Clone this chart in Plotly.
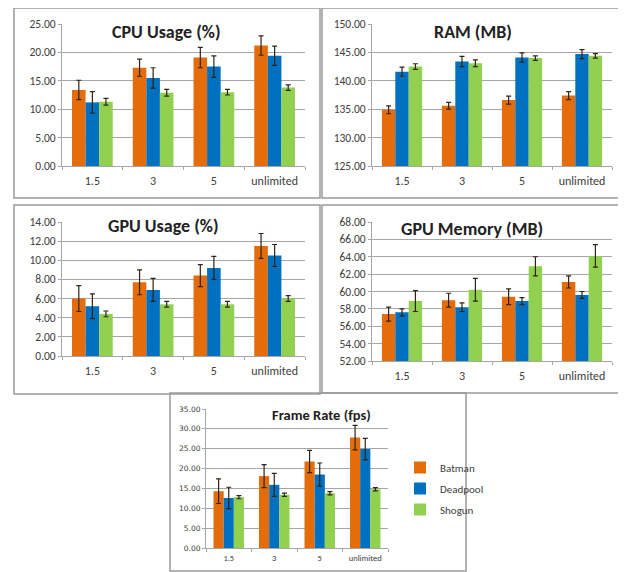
import plotly.graph_objects as go

# The page body has an 8px default margin, so the figure is drawn 8px smaller
# and every reference pixel position is shifted by OFF.
OFF = 8
W, H = 626 - OFF, 572 - OFF

categories = ["1.5", "3", "5", "unlimited"]
series_names = ["Batman", "Deadpool", "Shogun"]
series_colors = ["#E46C0A", "#0070C0", "#92D050"]

# CPU Usage (%)
cpu_batman = [13.4, 17.3, 19.1, 21.2]
cpu_deadpool = [11.2, 15.5, 17.5, 19.4]
cpu_shogun = [11.3, 12.9, 13.0, 13.8]
cpu_batman_err = [1.7, 1.5, 1.8, 1.7]
cpu_deadpool_err = [1.9, 1.8, 1.9, 1.7]
cpu_shogun_err = [0.6, 0.6, 0.5, 0.5]

# RAM (MB)
ram_batman = [134.9, 135.6, 136.6, 137.4]
ram_deadpool = [141.6, 143.4, 144.1, 144.7]
ram_shogun = [142.5, 143.1, 144.0, 144.4]
ram_batman_err = [0.7, 0.6, 0.7, 0.7]
ram_deadpool_err = [0.8, 0.9, 0.8, 0.8]
ram_shogun_err = [0.5, 0.6, 0.4, 0.4]

# GPU Usage (%)
gpu_batman = [6.0, 7.7, 8.4, 11.5]
gpu_deadpool = [5.2, 6.9, 9.2, 10.5]
gpu_shogun = [4.4, 5.4, 5.4, 6.0]
gpu_batman_err = [1.35, 1.3, 1.15, 1.3]
gpu_deadpool_err = [1.3, 1.2, 1.2, 1.15]
gpu_shogun_err = [0.3, 0.3, 0.3, 0.3]

# GPU Memory (MB)
gmem_batman = [57.4, 59.0, 59.4, 61.1]
gmem_deadpool = [57.6, 58.2, 58.9, 59.6]
gmem_shogun = [58.9, 60.2, 62.9, 64.1]
gmem_batman_err = [0.8, 0.8, 0.9, 0.7]
gmem_deadpool_err = [0.4, 0.5, 0.4, 0.4]
gmem_shogun_err = [1.2, 1.3, 1.1, 1.3]

# Frame Rate (fps)
fps_batman = [14.3, 18.1, 21.8, 27.8]
fps_deadpool = [12.6, 15.9, 18.5, 24.9]
fps_shogun = [12.8, 13.4, 13.8, 14.8]
fps_batman_err = [3.1, 2.9, 2.8, 3.1]
fps_deadpool_err = [2.7, 2.9, 2.9, 2.7]
fps_shogun_err = [0.4, 0.4, 0.4, 0.4]

FONT = "Carlito, Lato, 'Open Sans', sans-serif"
WIDE = "'DejaVu Sans', Verdana, sans-serif"


def px(x):
    return (x - OFF) / W


def py(y):
    return 1 - (y - OFF) / H


panels = [
    dict(title="CPU Usage (%)", vals=[cpu_batman, cpu_deadpool, cpu_shogun],
         errs=[cpu_batman_err, cpu_deadpool_err, cpu_shogun_err],
         yrange=[0, 25], dtick=5, rect=(62, 305, 24, 166), box=(14, 320, 8, 198),
         tpos=(166, 32), tsize=18, yfont=(FONT, 11.5), xfont=(FONT, 12)),
    dict(title="RAM (MB)", vals=[ram_batman, ram_deadpool, ram_shogun],
         errs=[ram_batman_err, ram_deadpool_err, ram_shogun_err],
         yrange=[125, 150], dtick=5, rect=(372, 612, 24, 166), box=(322, 624, 8, 198),
         tpos=(473, 32), tsize=18, yfont=(FONT, 11.5), xfont=(FONT, 12)),
    dict(title="GPU Usage (%)", vals=[gpu_batman, gpu_deadpool, gpu_shogun],
         errs=[gpu_batman_err, gpu_deadpool_err, gpu_shogun_err],
         yrange=[0, 14], dtick=2, rect=(62, 305, 222, 356), box=(14, 320, 205, 394),
         tpos=(163, 226), tsize=18, yfont=(FONT, 11.5), xfont=(FONT, 12)),
    dict(title="GPU Memory (MB)", vals=[gmem_batman, gmem_deadpool, gmem_shogun],
         errs=[gmem_batman_err, gmem_deadpool_err, gmem_shogun_err],
         yrange=[52, 68], dtick=2, rect=(372, 612, 222, 361), box=(322, 624, 205, 393),
         tpos=(472, 229), tsize=18, yfont=(FONT, 11.5), xfont=(FONT, 12)),
    dict(title="Frame Rate (fps)", vals=[fps_batman, fps_deadpool, fps_shogun],
         errs=[fps_batman_err, fps_deadpool_err, fps_shogun_err],
         yrange=[0, 35], dtick=5, rect=(206, 388, 409, 548), box=(170, 466, 393, 571),
         tpos=(321, 415), tsize=14.5, yfont=(WIDE, 7.5), xfont=(FONT, 8.5)),
]

fig = go.Figure()
shapes = []
annotations = []
layout = {}

for i, p in enumerate(panels, start=1):
    xa = "x" if i == 1 else f"x{i}"
    ya = "y" if i == 1 else f"y{i}"
    x0, x1, y0, y1 = p["rect"]
    for s in range(3):
        fig.add_trace(go.Bar(
            x=categories, y=p["vals"][s], name=series_names[s],
            marker=dict(color=series_colors[s], line=dict(width=0)),
            error_y=dict(type="data", array=p["errs"][s], color="#2e2418",
                         thickness=1.2, width=2.5),
            xaxis=xa, yaxis=ya, showlegend=(i == 5), legendgroup=series_names[s],
        ))
    xkey = "xaxis" if i == 1 else f"xaxis{i}"
    ykey = "yaxis" if i == 1 else f"yaxis{i}"
    layout[xkey] = dict(
        domain=[px(x0), px(x1)], anchor=ya, type="category", automargin=False,
        showline=True, linecolor="#a6a6a6", linewidth=1,
        ticks="outside", ticklen=3, tickcolor="#a6a6a6", tickson="boundaries",
        tickfont=dict(family=p["xfont"][0], size=p["xfont"][1], color="#404040"),
        showgrid=False, fixedrange=True, ticklabelstandoff=4 if i != 5 else 2,
    )
    layout[ykey] = dict(
        domain=[py(y1), py(y0)], anchor=xa, range=p["yrange"], automargin=False,
        dtick=p["dtick"], tick0=p["yrange"][0], tickformat=".2f",
        showgrid=True, gridcolor="#a6a6a6", gridwidth=1,
        showline=True, linecolor="#a6a6a6", linewidth=1,
        ticks="outside", ticklen=3, tickcolor="#a6a6a6",
        tickfont=dict(family=p["yfont"][0], size=p["yfont"][1], color="#404040"),
        zeroline=False, fixedrange=True,
    )
    bx0, bx1, by0, by1 = p["box"]
    shapes.append(dict(type="rect", xref="paper", yref="paper",
                       x0=px(bx0), x1=px(bx1), y0=py(by1), y1=py(by0),
                       line=dict(color="#9a9a9a", width=1.5), layer="below"))
    tx, ty = p["tpos"]
    annotations.append(dict(text=f"<b>{p['title']}</b>", xref="paper", yref="paper",
                            x=px(tx), y=py(ty), xanchor="center", yanchor="middle",
                            showarrow=False,
                            font=dict(family=FONT, size=p["tsize"], color="#222222")))

fig.update_layout(
    **layout,
    width=W, height=H,
    margin=dict(l=0, r=0, t=0, b=0),
    paper_bgcolor="white", plot_bgcolor="white",
    barmode="group", bargap=0.33, bargroupgap=0,
    shapes=shapes, annotations=annotations,
    legend=dict(x=px(400), y=py(453), xanchor="left", yanchor="top",
                font=dict(family=FONT, size=11, color="#404040"),
                traceorder="grouped", tracegroupgap=2,
                itemwidth=30, bgcolor="rgba(0,0,0,0)"),
)

fig.write_html("out.html")
